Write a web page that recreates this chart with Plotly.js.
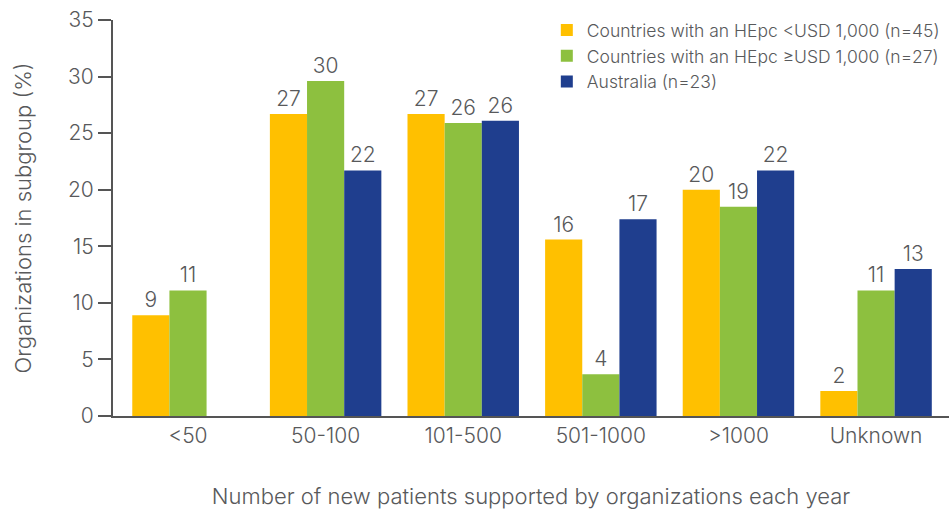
<!DOCTYPE html>
<html>
<head>
<meta charset="utf-8">
<script src="https://cdn.plot.ly/plotly-3.0.1.min.js"></script>
<style>html,body{margin:0;padding:0;background:#fff;}#chart{width:949px;height:509px;}</style>
</head>
<body>
<div id="chart"></div>
<script>
var categories = ["<50", "50-100", "101-500", "501-1000", ">1000", "Unknown"];
var seriesNames = [
  "Countries with an HEpc <USD 1,000 (n=45)",
  "Countries with an HEpc \u2265USD 1,000 (n=27)",
  "Australia (n=23)"
];
var lowIncome = [8.9, 26.7, 26.7, 15.6, 20.0, 2.2];
var highIncome = [11.1, 29.6, 25.9, 3.7, 18.5, 11.1];
var australia = [null, 21.7, 26.1, 17.4, 21.7, 13.0];
var colors = ["#FFC000", "#8DC03F", "#1F3E8E"];

var FONT = "Inter, 'Liberation Sans', Arial, sans-serif";
var GRAY = "#58595B";

function label(arr) {
  return arr.map(function (v) { return v === null ? "" : String(Math.round(v)); });
}

var data = [lowIncome, highIncome, australia].map(function (vals, i) {
  return {
    type: "bar",
    name: seriesNames[i],
    x: categories,
    y: vals,
    text: label(vals),
    textposition: "outside",
    cliponaxis: false,
    textfont: {family: FONT, size: 21, color: GRAY, weight: 300},
    marker: {color: colors[i], line: {width: 0}},
    hoverinfo: "none"
  };
});

var layout = {
  width: 949,
  height: 509,
  margin: {l: 113, r: 0, t: 20, b: 93},
  paper_bgcolor: "#fff",
  plot_bgcolor: "#fff",
  barmode: "group",
  bargap: 0.19,
  bargroupgap: 0,
  font: {family: FONT, color: GRAY, weight: 300},
  showlegend: true,
  legend: {
    x: 0.995, xanchor: "right", y: 1.02, yanchor: "top",
    font: {family: FONT, size: 17.5, color: GRAY, weight: 300},
    bgcolor: "rgba(0,0,0,0)",
    tracegroupgap: 0,
    itemwidth: 30
  },
  xaxis: {
    type: "category",
    range: [-0.545, 5.53],
    showline: true, linecolor: "#555", linewidth: 2,
    ticks: "", showgrid: false, zeroline: false,
    tickfont: {family: FONT, size: 21, color: GRAY, weight: 300},
    title: {text: "Number of new patients supported by organizations each year",
            font: {family: FONT, size: 22, color: GRAY, weight: 300}, standoff: 42}
  },
  yaxis: {
    range: [0, 35],
    dtick: 5,
    showline: true, linecolor: "#555", linewidth: 2,
    ticks: "outside", ticklen: 13, tickwidth: 2, tickcolor: "#555",
    showgrid: false, zeroline: false,
    tickfont: {family: FONT, size: 21, color: GRAY, weight: 300},
    title: {text: "Organizations in subgroup (%)",
            font: {family: FONT, size: 22, color: GRAY, weight: 300}, standoff: 30}
  }
};

Plotly.newPlot("chart", data, layout, {displayModeBar: false, staticPlot: true});
</script>
</body>
</html>
